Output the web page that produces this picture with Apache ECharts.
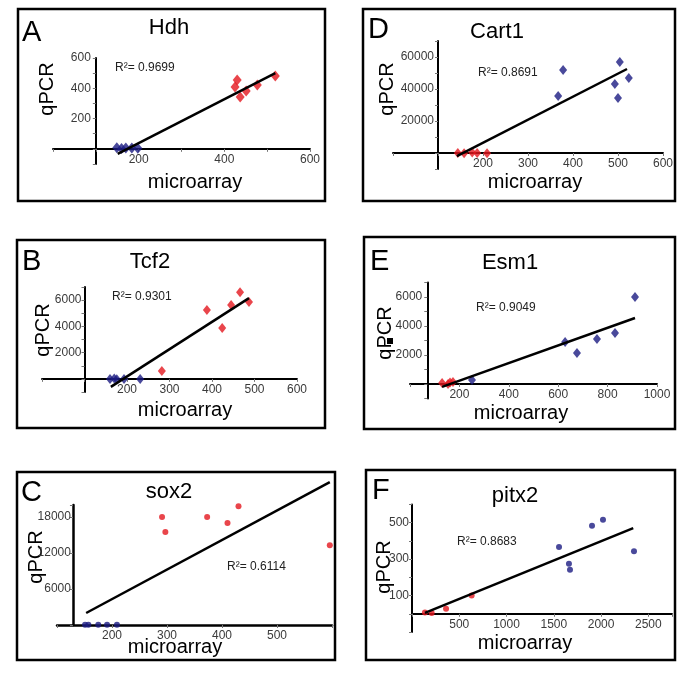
<!DOCTYPE html>
<html>
<head>
<meta charset="utf-8">
<script src="https://cdn.jsdelivr.net/npm/echarts@6/dist/echarts.min.js"></script>
<style>
  html, body { margin: 0; padding: 0; background: #fff; }
  #chart { width: 685px; height: 674px; }
</style>
</head>
<body>
<div id="chart"></div>
<script>
// values, [microarray, qPCR]
var hdhBlue = [[149, 8], [160, 3], [170, 5], [184, 6], [198, 4]];
var hdhRed = [[425, 409], [430, 455], [437, 343], [451, 382], [477, 422], [519, 481]];
var hdhTrend = [[151, -33], [519, 500]];

var cartBlue = [[367, 35600], [378, 51900], [493, 43100], [504, 56900], [500, 34400], [524, 46900]];
var cartRed = [[144, 0], [158, -200], [176, 300], [187, 0], [209, -100]];
var cartTrend = [[142, -1900], [520, 52500]];

var tcfBlue = [[160, 0], [170, 20], [176, -20], [193, 0], [231, 0]];
var tcfRed = [[282, 608], [388, 5240], [424, 3873], [445, 5620], [466, 6608], [487, 5848]];
var tcfTrend = [[162, -608], [487, 6150]];

var esmBlue = [[251, 276], [628, 2897], [676, 2138], [757, 3103], [830, 3517], [911, 6000]];
var esmRed = [[130, 69], [154, 0], [162, 100], [174, 140]];
var esmTrend = [[130, -200], [911, 4550]];

var soxBlue = [[151, 60], [157, 60], [175, 60], [191, 60], [209, 60]];
var soxRed = [[291, 18000], [297, 15500], [373, 18000], [410, 17000], [430, 19800], [596, 13300]];
var soxTrend = [[153, 2000], [596, 23800]];

var pitxBlue = [[1555, 367], [1660, 275], [1671, 242], [1904, 484], [2020, 516], [2348, 343]];
var pitxRed = [[137, 7], [208, 4], [360, 28], [631, 100]];
var pitxTrend = [[137, 5], [2340, 470]];

// tick labels
var hdhXLabels = [200, 400, 600], hdhYLabels = [200, 400, 600];
var cartXLabels = [200, 300, 400, 500, 600], cartYLabels = [20000, 40000, 60000];
var tcfXLabels = [200, 300, 400, 500, 600], tcfYLabels = [2000, 4000, 6000];
var esmXLabels = [200, 400, 600, 800, 1000], esmYLabels = [2000, 4000, 6000];
var soxXLabels = [200, 300, 400, 500], soxYLabels = [6000, 12000, 18000];
var pitxXLabels = [500, 1000, 1500, 2000, 2500], pitxYLabels = [100, 300, 500];

var RED = '#e3161e';
var NAVY = '#1b1b82';
var FONT = '"Liberation Sans", Arial, sans-serif';

// layout of each panel (pixels)
var panels = [
    {
        letter: 'A', title: 'Hdh', r2: 'R\u00b2= 0.9699',
        box: [18, 9, 325, 201], grid: [53, 58, 257, 106], axisWidth: 2,
        x: {min: 0, max: 600, interval: 100, cross: 100, labels: hdhXLabels},
        y: {min: -100, max: 600, interval: 100, labels: hdhYLabels, margin: 5},
        symbol: 'diamond', size: [9, 11], blue: hdhBlue, red: hdhRed, trend: hdhTrend,
        letterPos: [22, 33], titlePos: [169, 28], qPos: [47, 89], mPos: [195, 182], r2Pos: [115, 68]
    },
    {
        letter: 'D', title: 'Cart1', r2: 'R\u00b2= 0.8691',
        box: [363, 9, 675, 201], grid: [393, 41, 270, 128], axisWidth: 2,
        x: {min: 0, max: 600, interval: 100, cross: 100, labels: cartXLabels},
        y: {min: -10000, max: 70000, interval: 10000, labels: cartYLabels, margin: 4},
        symbol: 'diamond', size: [8, 10], blue: cartBlue, red: cartRed, trend: cartTrend,
        letterPos: [368, 30], titlePos: [497, 32], qPos: [387, 89], mPos: [535, 182], r2Pos: [478, 73]
    },
    {
        letter: 'B', title: 'Tcf2', r2: 'R\u00b2= 0.9301',
        box: [17, 240, 325, 428], grid: [42, 287, 255, 105], axisWidth: 2,
        x: {min: 0, max: 600, interval: 100, cross: 100, labels: tcfXLabels},
        y: {min: -1000, max: 7000, interval: 1000, labels: tcfYLabels, margin: 3},
        symbol: 'diamond', size: [8, 10], blue: tcfBlue, red: tcfRed, trend: tcfTrend,
        letterPos: [22, 262], titlePos: [150, 262], qPos: [43, 330], mPos: [185, 410], r2Pos: [112, 297]
    },
    {
        letter: 'E', title: 'Esm1', r2: 'R\u00b2= 0.9049',
        box: [364, 237, 675, 429], grid: [410, 282.5, 247, 116], axisWidth: 2,
        x: {min: 0, max: 1000, interval: 200, cross: 70, labels: esmXLabels},
        y: {min: -1000, max: 7000, interval: 1000, labels: esmYLabels, margin: 5},
        symbol: 'diamond', size: [8, 10], blue: esmBlue, red: esmRed, trend: esmTrend,
        letterPos: [370, 262], titlePos: [510, 263], qPos: [385, 333], mPos: [521, 413], r2Pos: [476, 308]
    },
    {
        letter: 'C', title: 'sox2', r2: 'R\u00b2= 0.6114',
        box: [17, 472, 335, 660], grid: [57, 505, 275, 120], axisWidth: 2.5,
        x: {min: 100, max: 600, interval: 100, cross: 129, labels: soxXLabels},
        y: {min: 0, max: 20000, interval: 6000, labels: soxYLabels, margin: 2},
        symbol: 'circle', size: 6, blue: soxBlue, red: soxRed, trend: soxTrend,
        letterPos: [21, 493], titlePos: [169, 492], qPos: [36, 557], mPos: [175, 647], r2Pos: [227, 567]
    },
    {
        letter: 'F', title: 'pitx2', r2: 'R\u00b2= 0.8683',
        box: [366, 470, 675, 660], grid: [412, 504.5, 260, 127.5], axisWidth: 2,
        x: {min: 0, max: 2750, interval: 500, cross: 0, labels: pitxXLabels},
        y: {min: -100, max: 600, interval: 100, labels: pitxYLabels, margin: 3},
        symbol: 'circle', size: 6, blue: pitxBlue, red: pitxRed, trend: pitxTrend,
        letterPos: [372, 491], titlePos: [515, 496], qPos: [384, 567], mPos: [525, 643], r2Pos: [457, 542]
    }
];

function pick(labels) {
    return function (v) {
        return labels.indexOf(v) >= 0 ? String(v) : '';
    };
}

var dom = document.getElementById('chart');
var myChart = echarts.init(dom, null, {renderer: 'canvas'});

var grids = [], xAxes = [], yAxes = [], series = [], graphics = [];

panels.forEach(function (p, i) {
    var g = p.grid;
    grids.push({left: g[0], top: g[1], width: g[2], height: g[3], containLabel: false});

    // the x axis sits on qPCR = 0, the y axis on microarray = cross
    var xOff = -(0 - p.y.min) / (p.y.max - p.y.min) * g[3];
    var yOff = -(p.x.cross - p.x.min) / (p.x.max - p.x.min) * g[2];

    xAxes.push({
        gridIndex: i, type: 'value',
        min: p.x.min, max: p.x.max, interval: p.x.interval,
        offset: xOff,
        axisLine: {onZero: false, lineStyle: {color: '#000', width: p.axisWidth}},
        axisTick: {length: 3, lineStyle: {color: '#777', width: 1}},
        axisLabel: {margin: 5, color: '#3a3a3a', fontSize: 12, fontFamily: FONT, formatter: pick(p.x.labels)},
        splitLine: {show: false}
    });
    yAxes.push({
        gridIndex: i, type: 'value',
        min: p.y.min, max: p.y.max, interval: p.y.interval,
        offset: yOff,
        axisLine: {onZero: false, lineStyle: {color: '#000', width: p.axisWidth}},
        axisTick: {length: 3, lineStyle: {color: '#777', width: 1}},
        axisLabel: {margin: p.y.margin, color: '#3a3a3a', fontSize: 12, fontFamily: FONT, formatter: pick(p.y.labels)},
        splitLine: {show: false}
    });

    series.push({
        type: 'scatter', xAxisIndex: i, yAxisIndex: i,
        symbol: p.symbol, symbolSize: p.size,
        itemStyle: {color: NAVY}, data: p.blue, z: 3
    });
    series.push({
        type: 'scatter', xAxisIndex: i, yAxisIndex: i,
        symbol: p.symbol, symbolSize: p.size,
        itemStyle: {color: RED}, data: p.red, z: 3
    });
    series.push({
        type: 'line', xAxisIndex: i, yAxisIndex: i,
        showSymbol: false, symbol: 'none', clip: false,
        lineStyle: {color: '#000', width: 2.5},
        data: p.trend, z: 4
    });

    var b = p.box;
    graphics.push({
        type: 'rect', silent: true,
        shape: {x: b[0], y: b[1], width: b[2] - b[0], height: b[3] - b[1]},
        style: {fill: 'none', stroke: '#000', lineWidth: 2.5}
    });
    graphics.push({
        type: 'text', silent: true,
        style: {text: p.letter, x: p.letterPos[0], y: p.letterPos[1], font: '29px ' + FONT,
            textAlign: 'left', textVerticalAlign: 'middle', fill: '#000'}
    });
    graphics.push({
        type: 'text', silent: true,
        style: {text: p.title, x: p.titlePos[0], y: p.titlePos[1], font: '22px ' + FONT,
            textAlign: 'center', textVerticalAlign: 'middle', fill: '#000'}
    });
    graphics.push({
        type: 'text', silent: true,
        x: p.qPos[0], y: p.qPos[1], rotation: Math.PI / 2,
        style: {text: 'qPCR', x: 0, y: 0, font: '20px ' + FONT,
            textAlign: 'center', textVerticalAlign: 'middle', fill: '#000'}
    });
    graphics.push({
        type: 'text', silent: true,
        style: {text: 'microarray', x: p.mPos[0], y: p.mPos[1], font: '20px ' + FONT,
            textAlign: 'center', textVerticalAlign: 'middle', fill: '#000'}
    });
    graphics.push({
        type: 'text', silent: true,
        style: {text: p.r2, x: p.r2Pos[0], y: p.r2Pos[1], font: '12px ' + FONT,
            textAlign: 'left', textVerticalAlign: 'middle', fill: '#222'}
    });
});

// small black blot on the Esm1 axis title
graphics.push({
    type: 'rect', silent: true,
    shape: {x: 387, y: 338, width: 6, height: 6},
    style: {fill: '#000'}
});

var option = {
    animation: false,
    backgroundColor: '#fff',
    grid: grids,
    xAxis: xAxes,
    yAxis: yAxes,
    series: series,
    graphic: graphics
};

myChart.setOption(option);
window.addEventListener('resize', myChart.resize);
</script>
</body>
</html>
